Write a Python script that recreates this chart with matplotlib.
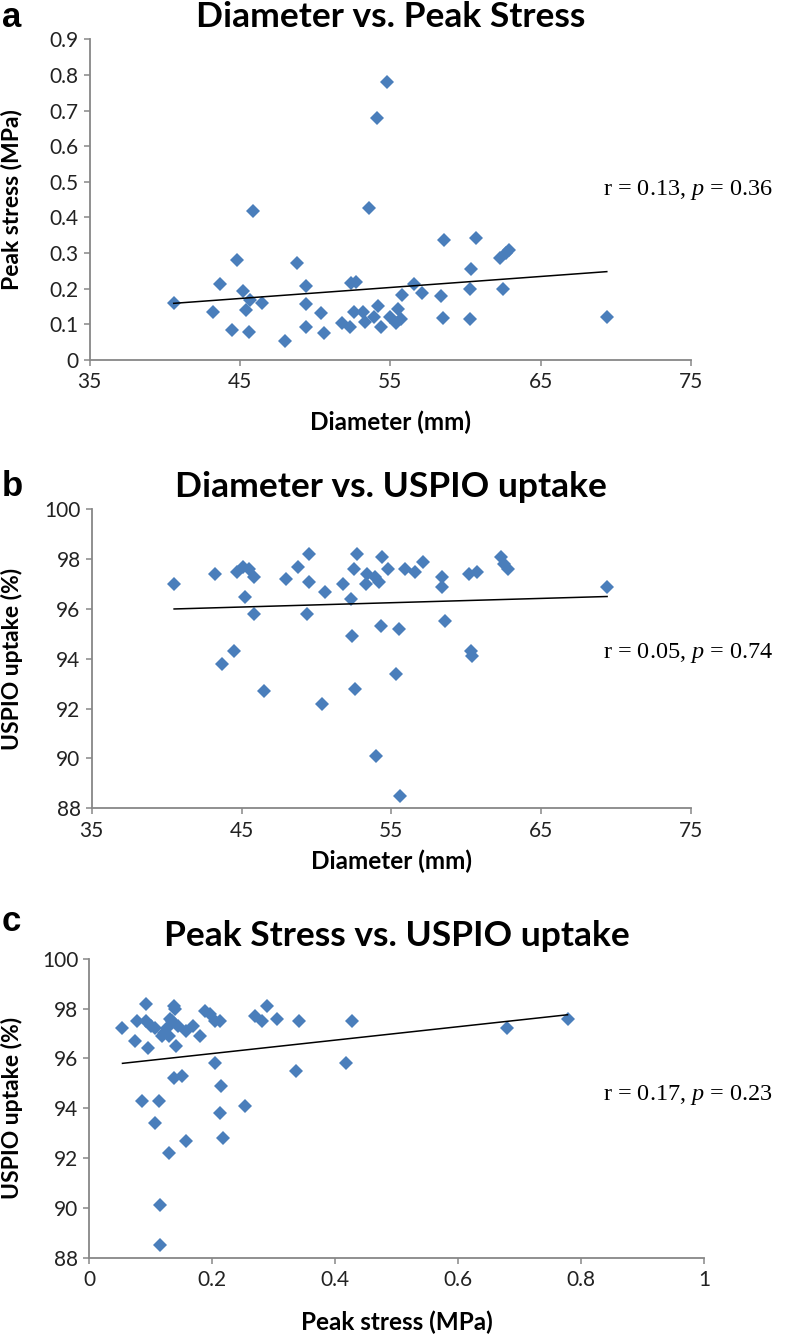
import numpy as np
import matplotlib
matplotlib.use("Agg")
import matplotlib.pyplot as plt

# ---------------- data ----------------
# Panel a: Diameter (mm) vs Peak stress (MPa)
diam_a = [40.6, 43.2, 43.7, 44.5, 44.8, 45.2, 45.4, 45.6, 45.9, 45.7, 46.5, 48.0, 48.8, 49.4, 49.4,
          49.4, 50.4, 50.6, 51.8, 52.3, 52.4, 52.7, 52.6, 53.2, 53.3, 53.6, 54.1, 54.8, 54.2, 53.9,
          54.4, 55.0, 55.4, 55.5, 55.7, 55.8, 56.6, 57.1, 58.4, 58.5, 58.6, 60.3, 60.3, 60.4, 60.7,
          62.3, 62.5, 62.7, 62.9, 69.4]
stress_a = [0.159, 0.134, 0.212, 0.084, 0.280, 0.193, 0.140, 0.079, 0.418, 0.168, 0.159, 0.054,
            0.271, 0.207, 0.157, 0.093, 0.131, 0.075, 0.103, 0.094, 0.216, 0.218, 0.136, 0.135,
            0.107, 0.427, 0.679, 0.779, 0.152, 0.120, 0.094, 0.121, 0.105, 0.142, 0.114, 0.182,
            0.213, 0.189, 0.180, 0.117, 0.336, 0.198, 0.114, 0.254, 0.341, 0.287, 0.198, 0.299,
            0.308, 0.120]
trend_a = [0.159, 0.248]   # trend line values at the min / max diameter

# Panel b: Diameter (mm) vs USPIO uptake (%)
diam_b = [40.5, 43.2, 43.7, 44.5, 44.7, 45.1, 45.5, 45.8, 45.2, 45.8, 46.5, 48.0, 48.8, 49.5, 49.5,
          49.4, 50.6, 50.4, 51.8, 52.3, 52.4, 52.6, 52.7, 52.5, 53.3, 53.4, 53.9, 54.2, 54.4, 54.8,
          54.3, 54.0, 55.3, 55.5, 55.6, 55.9, 56.6, 57.1, 58.4, 58.4, 58.6, 60.2, 60.7, 60.3, 60.4,
          62.3, 62.5, 62.8, 69.4]
uspio_b = [97.0, 97.4, 93.8, 94.3, 97.5, 97.7, 97.6, 97.3, 96.5, 95.8, 92.7, 97.2, 97.7, 98.2, 97.1,
           95.8, 96.7, 92.2, 97.0, 96.4, 94.9, 92.8, 98.2, 97.6, 97.0, 97.4, 97.3, 97.1, 98.1, 97.6,
           95.3, 90.1, 93.4, 95.2, 88.5, 97.6, 97.5, 97.9, 97.3, 96.9, 95.5, 97.4, 97.5, 94.3, 94.1,
           98.1, 97.8, 97.6, 96.9]
trend_b = [96.0, 96.5]

# Panel c: Peak stress (MPa) vs USPIO uptake (%)
stress_c = [0.054, 0.074, 0.078, 0.093, 0.093, 0.096, 0.085, 0.113, 0.107, 0.130, 0.115, 0.115,
            0.137, 0.139, 0.107, 0.118, 0.126, 0.129, 0.134, 0.141, 0.137, 0.150, 0.158, 0.158,
            0.169, 0.180, 0.188, 0.196, 0.205, 0.213, 0.205, 0.215, 0.213, 0.217, 0.254, 0.270,
            0.281, 0.289, 0.306, 0.336, 0.341, 0.417, 0.427, 0.679, 0.778, 0.100, 0.122, 0.131,
            0.145]
uspio_c = [97.2, 96.7, 97.5, 98.2, 97.5, 96.4, 94.3, 94.3, 93.4, 92.2, 90.1, 88.5, 98.1, 98.0, 97.2,
           96.9, 97.2, 96.9, 97.5, 96.5, 95.2, 95.3, 92.7, 97.1, 97.3, 96.9, 97.9, 97.8, 97.5, 97.5,
           95.8, 94.9, 93.8, 92.8, 94.1, 97.7, 97.5, 98.1, 97.6, 95.5, 97.5, 95.8, 97.5, 97.2, 97.6,
           97.3, 97.0, 97.6, 97.3]
trend_c = [95.8, 97.75]

titles = ["Diameter vs. Peak Stress", "Diameter vs. USPIO uptake", "Peak Stress vs. USPIO uptake"]
letters = ["a", "b", "c"]
xlabels = ["Diameter (mm)", "Diameter (mm)", "Peak stress (MPa)"]
ylabels = ["Peak stress (MPa)", "USPIO uptake (%)", "USPIO uptake (%)"]
stats = [("0.13", "0.36"), ("0.05", "0.74"), ("0.17", "0.23")]

xticks_ab = [35, 45, 55, 65, 75]
yticks_a = [0, 0.1, 0.2, 0.3, 0.4, 0.5, 0.6, 0.7, 0.8, 0.9]
yticks_bc = [88, 90, 92, 94, 96, 98, 100]
xticks_c = [0, 0.2, 0.4, 0.6, 0.8, 1.0]

# ---------------- style ----------------
plt.rcParams['mathtext.fontset'] = 'custom'
plt.rcParams['mathtext.rm'] = 'Liberation Serif'
plt.rcParams['mathtext.it'] = 'Liberation Serif:italic'

W, H = 789, 1340
fig = plt.figure(figsize=(W / 100, H / 100), dpi=100)

BLUE = '#4a7ebb'
GRAY = '#878787'
SANS = 'Lato'

def px_axes(l, r, t, b):
    return fig.add_axes([l / W, 1 - b / H, (r - l) / W, (b - t) / H])

axes_px = [(89.5, 691, 39.3, 360), (91.7, 691, 509.3, 808.3), (89.3, 704, 958.7, 1257.7)]
datasets = [(diam_a, stress_a, trend_a), (diam_b, uspio_b, trend_b), (stress_c, uspio_c, trend_c)]
limits = [((35, 75), (0, 0.9)), ((35, 75), (88, 100)), ((0, 1), (88, 100))]
xtick_sets = [xticks_ab, xticks_ab, xticks_c]
ytick_sets = [yticks_a, yticks_bc, yticks_bc]
stat_y = [190, 653, 1095]
letter_y = [1, 470, 905]
xlabel_y = [422, 861, 1322]
ylabel_x = 12

def fmt(v):
    s = ('%.1f' % v)
    if s.endswith('.0'):
        s = s[:-2]
    return s

for i in range(3):
    l, r_, t, b = axes_px[i]
    ax = px_axes(l, r_, t, b)
    xd, yd, tr = np.array(datasets[i][0]), np.array(datasets[i][1]), datasets[i][2]
    ax.plot(xd, yd, linestyle='none', marker='D', ms=7.6, mfc=BLUE, mec=BLUE, mew=0, zorder=3)
    # linear trend line
    ax.plot([xd.min(), xd.max()], tr, color='black', lw=1.1, zorder=4)

    ax.set_xlim(*limits[i][0])
    ax.set_ylim(*limits[i][1])
    ax.set_xticks(xtick_sets[i])
    ax.set_yticks(ytick_sets[i])
    ax.set_xticklabels([fmt(v) for v in xtick_sets[i]])
    ax.set_yticklabels([fmt(v) for v in ytick_sets[i]])
    for s in ['top', 'right']:
        ax.spines[s].set_visible(False)
    for s in ['left', 'bottom']:
        ax.spines[s].set_color(GRAY)
        ax.spines[s].set_linewidth(1.3)
    ax.tick_params(axis='both', direction='out', length=4, width=1.1, color=GRAY,
                   labelsize=15, labelcolor='#222222')
    ax.tick_params(axis='x', pad=5)
    ax.tick_params(axis='y', pad=4)
    for lab in ax.get_xticklabels() + ax.get_yticklabels():
        lab.set_family(SANS)
    ax.set_xlabel(xlabels[i], fontsize=17.5, fontweight='bold', family=SANS)
    ax.set_ylabel(ylabels[i], fontsize=16.5, fontweight='bold', family=SANS)
    ax.xaxis.set_label_coords(0.5, (b - xlabel_y[i]) / (b - t))
    ax.xaxis.label.set_va('center')
    ax.yaxis.set_label_coords((ylabel_x - l) / (r_ - l), 0.5)
    ax.yaxis.label.set_va('center')
    ax.set_title(titles[i], fontsize=25.5, fontweight='bold', family=SANS, pad=9)

    # stats annotation
    rr, p = stats[i]
    fig.text(603 / W, 1 - stat_y[i] / H, 'r = %s, $\\mathit{p}$ = %s' % (rr, p),
             fontsize=17.5, family='Liberation Serif', ha='left', va='center')
    # panel letter
    fig.text(2 / W, 1 - letter_y[i] / H, letters[i], fontsize=25, fontweight='bold',
             family='Liberation Sans', ha='left', va='top')

fig.savefig('out.png', dpi=100, facecolor='white')
